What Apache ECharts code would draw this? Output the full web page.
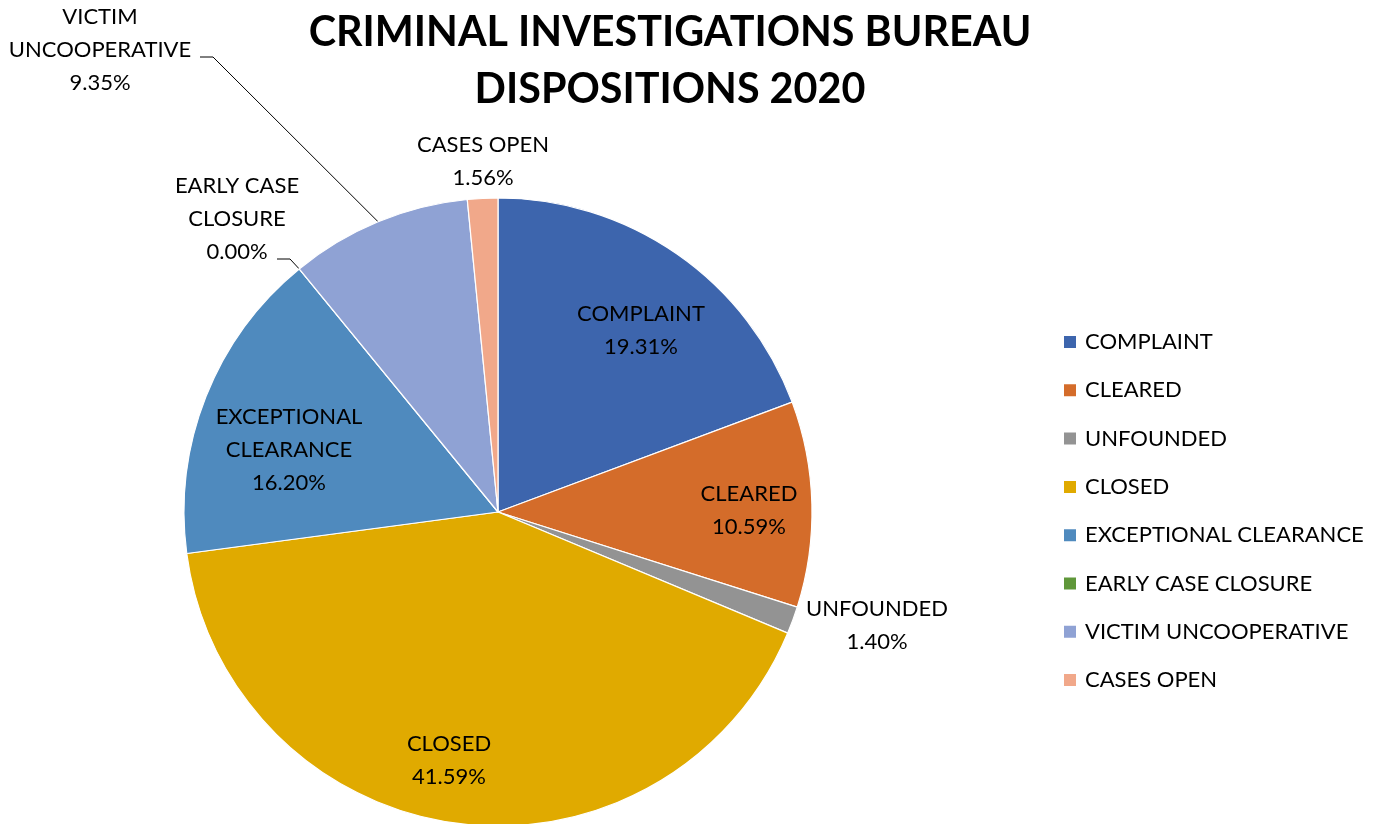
<!DOCTYPE html>
<html>
<head>
<meta charset="utf-8">
<script src="https://cdn.jsdelivr.net/npm/echarts@6/dist/echarts.min.js"></script>
<style>html,body{margin:0;padding:0;background:#fff;}#chart{width:1382px;height:824px;}</style>
</head>
<body>
<div id="chart"></div>
<script>
const categories = ['COMPLAINT', 'CLEARED', 'UNFOUNDED', 'CLOSED', 'EXCEPTIONAL CLEARANCE', 'EARLY CASE CLOSURE', 'VICTIM UNCOOPERATIVE', 'CASES OPEN'];
const values = [19.31, 10.59, 1.40, 41.59, 16.20, 0.00, 9.35, 1.56];
const labelNames = ['COMPLAINT', 'CLEARED', 'UNFOUNDED', 'CLOSED', 'EXCEPTIONAL\nCLEARANCE', 'EARLY CASE\nCLOSURE', 'VICTIM\nUNCOOPERATIVE', 'CASES OPEN'];
const colors = ['#3D65AD', '#D46C2A', '#939393', '#E0AA00', '#4F8ABE', '#5F973A', '#8FA2D4', '#F1A88A'];

// layout (pixels relative to pie centre)
const CX = 498, CY = 512, R = 314;
const labelOffsets = [[143, -182], [251, -2], [379, 113], [-49, 248], [-209, -62], [-261, -293], [-398, -462], [-15, -351]];
const leaderBends = { 5: [[-208, -253], [-221, -253]], 6: [[-285, -455], [-298, -455]] };

const total = values.reduce((a, b) => a + b, 0);
const midAngles = [];
let acc = 0;
values.forEach(v => { midAngles.push((acc + v / 2) / total * 2 * Math.PI); acc += v; });

const chart = echarts.init(document.getElementById('chart'));
chart.setOption({
  backgroundColor: '#fff',
  animation: false,
  textStyle: { fontFamily: 'Lato' },
  title: {
    text: 'CRIMINAL INVESTIGATIONS BUREAU\nDISPOSITIONS 2020',
    left: 670, top: 4, padding: 0, textAlign: 'center',
    textStyle: { fontFamily: 'Lato', fontWeight: 'bold', fontSize: 41.3, lineHeight: 57, color: '#000' }
  },
  legend: {
    orient: 'vertical', left: 1062, top: 330, padding: 0,
    itemWidth: 14, itemHeight: 14, itemGap: 24.3, icon: 'rect',
    textStyle: { fontFamily: 'Lato', fontSize: 22, lineHeight: 24, color: '#000', padding: [0, 0, 0, 3] },
    data: categories
  },
  series: [{
    type: 'pie',
    center: [CX, CY], radius: R,
    startAngle: 90, clockwise: true,
    avoidLabelOverlap: false,
    itemStyle: { borderColor: '#fff', borderWidth: 1.2 },
    label: {
      show: true, position: 'outside', fontFamily: 'Lato', fontSize: 22, lineHeight: 33, color: '#000',
      formatter: p => labelNames[p.dataIndex] + '\n' + p.value.toFixed(2) + '%'
    },
    labelLine: { show: false, lineStyle: { color: '#000', width: 1 } },
    labelLayout: function (p) {
      const i = p.dataIndex, o = labelOffsets[i];
      const res = { x: CX + o[0], y: CY + o[1], align: 'center', verticalAlign: 'middle' };
      if (leaderBends[i]) {
        const a = midAngles[i];
        res.labelLinePoints = [[CX + R * Math.sin(a), CY - R * Math.cos(a)]].concat(
          leaderBends[i].map(b => [CX + b[0], CY + b[1]]));
      }
      return res;
    },
    data: categories.map((c, i) => ({
      name: c, value: values[i], itemStyle: { color: colors[i] },
      labelLine: { show: !!leaderBends[i] }
    }))
  }]
});
</script>
</body>
</html>
